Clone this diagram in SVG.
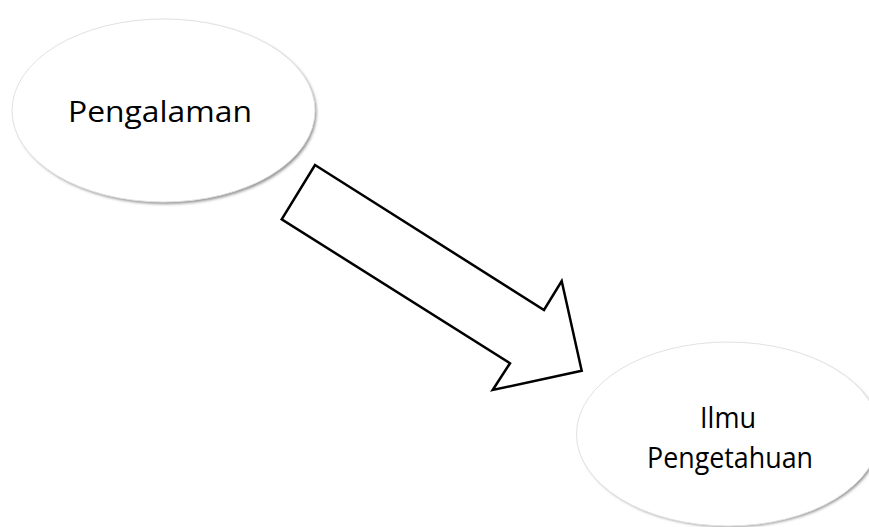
<svg xmlns="http://www.w3.org/2000/svg" width="869" height="527" viewBox="0 0 869 527">
<style>
  .node { fill: #ffffff; stroke: #e2e2e2; stroke-width: 1; }
  .shadow { fill: #8f8f8f; filter: url(#blur); }
  .label { font-family: "Open Sans", "Liberation Sans", sans-serif; fill: #000000; text-anchor: middle; font-size: 29.5px; }
  .arrow { fill: #ffffff; stroke: #000000; stroke-width: 2.5; stroke-linejoin: miter; }
</style>
<defs>
  <filter id="blur" x="-10%" y="-10%" width="120%" height="120%">
    <feGaussianBlur stdDeviation="1.6"/>
  </filter>
</defs>
<rect width="869" height="527" fill="#ffffff"/>
<g id="connectors">
  <polygon class="arrow" points="315,165 544,310 561.7,281 581.7,370.7 492.7,390 510,363.3 281.7,219.3"/>
</g>
<g id="node-pengalaman">
  <ellipse class="shadow" cx="165.5" cy="112.5" rx="151" ry="91.5"/>
  <ellipse class="node" cx="163.5" cy="110.5" rx="151.5" ry="91.5"/>
  <text class="label" x="160" y="122" textLength="184" lengthAdjust="spacingAndGlyphs">Pengalaman</text>
</g>
<g id="node-ilmu">
  <ellipse class="shadow" cx="730" cy="436" rx="151" ry="91"/>
  <ellipse class="node" cx="728" cy="434" rx="151.5" ry="92"/>
  <text class="label" x="728" y="428" textLength="56" lengthAdjust="spacingAndGlyphs">Ilmu</text>
  <text class="label" x="730" y="467.5" textLength="166" lengthAdjust="spacingAndGlyphs">Pengetahuan</text>
</g>
</svg>
